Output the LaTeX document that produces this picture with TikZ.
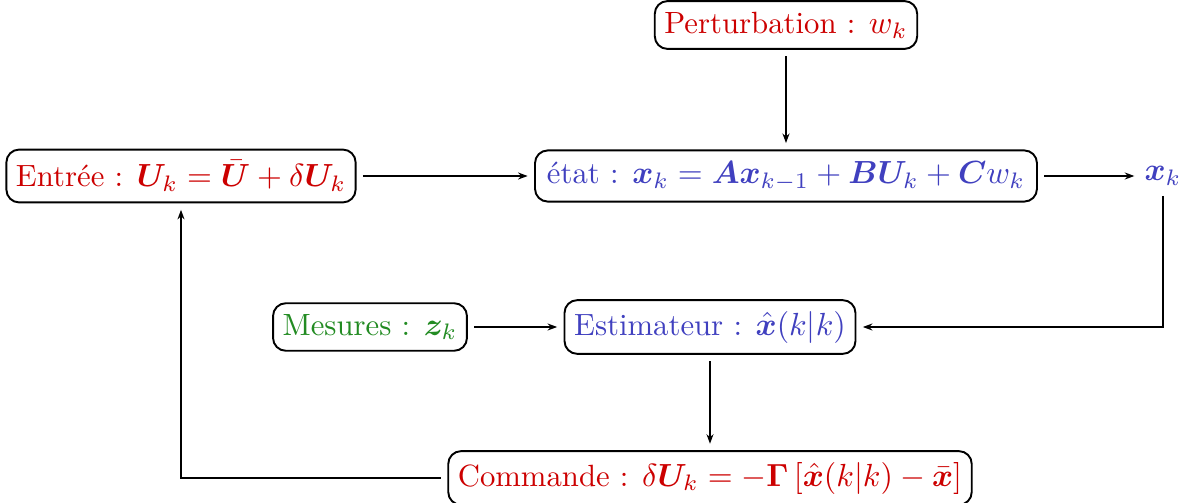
\documentclass[tikz,border=0pt]{standalone}
\usepackage{amsmath,bm}
\usetikzlibrary{arrows.meta}
\definecolor{cred}{RGB}{204,0,0}
\definecolor{cblue}{RGB}{64,64,191}
\definecolor{cgreen}{RGB}{34,139,34}
\begin{document}
\begin{tikzpicture}[x=0.3125pt,y=-0.3125pt,
  every node/.style={font=\fontsize{9.6}{11.5}\selectfont},
  blk/.style={draw,rounded corners=4pt,semithick,inner xsep=3pt,inner ysep=3.4pt},
  conn/.style={-{Stealth[length=3pt,width=2.2pt]},shorten >=2pt,shorten <=2pt}]
\useasboundingbox (0,0) rectangle (1183,503);
\node[blk,text=cred] (pert) at (786,25) {Perturbation : $w_k$};
\node[blk,text=cred] (entree) at (181,176) {Entrée : $\bm{U}_k=\bar{\bm{U}}+\delta\bm{U}_k$};
\node[blk,text=cblue,minimum width=502*0.3125pt] (etat) at (786,176) {état : $\bm{x}_k=\bm{A}\bm{x}_{k-1}+\bm{B}\bm{U}_k+\bm{C}w_k$};
\node[text=cblue,inner sep=1pt] (xk) at (1163,176) {$\bm{x}_k$};
\node[blk,text=cgreen] (mes) at (370,327) {Mesures : $\bm{z}_k$};
\node[blk,text=cblue] (est) at (710,327) {Estimateur : $\hat{\bm{x}}(k|k)$};
\node[blk,text=cred] (cmd) at (710,478) {Commande : $\delta\bm{U}_k=-\bm{\Gamma}\,[\hat{\bm{x}}(k|k)-\bar{\bm{x}}]$};
\draw[conn] (pert) -- (etat);
\draw[conn] (entree) -- (etat);
\draw[conn] (etat) -- (xk);
\draw[conn] (xk.south) |- (est.east);
\draw[conn] (mes) -- (est);
\draw[conn] (est) -- (cmd);
\draw[conn] (cmd.west) -| (entree.south);
\end{tikzpicture}
\end{document}
